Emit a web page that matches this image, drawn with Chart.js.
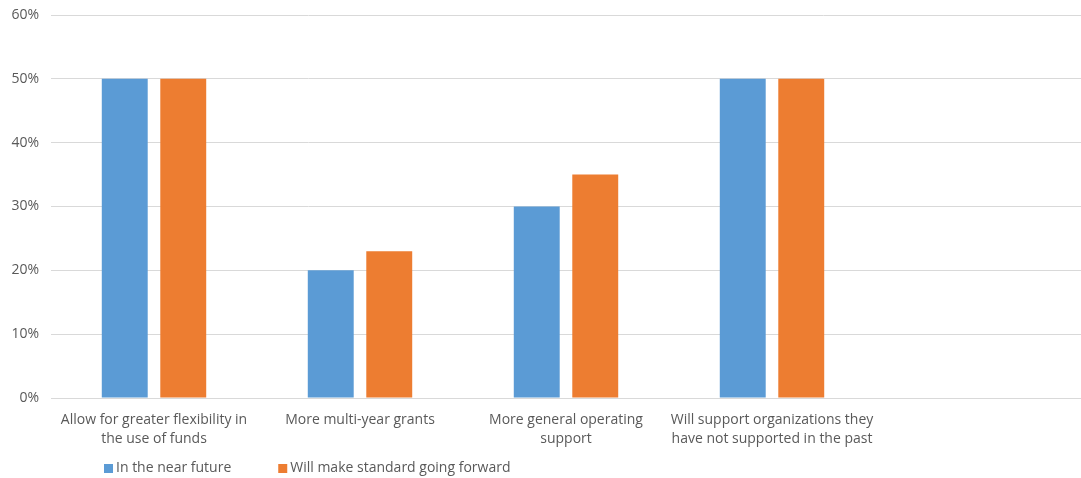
<!DOCTYPE html>
<html>
<head>
<meta charset="utf-8">
<script src="https://cdn.jsdelivr.net/npm/chart.js@4"></script>
<style>
  html, body { margin: 0; padding: 0; background: #fff; }
  #wrap { width: 1081px; height: 478px; }
</style>
</head>
<body>
<div id="wrap"><canvas id="grantChart"></canvas></div>
<script>
const categories = [
  ['Allow for greater flexibility in', 'the use of funds'],
  'More multi-year grants',
  ['More general operating', 'support'],
  ['Will support organizations they', 'have not supported in the past'],
  ''
];
const nearFuture = [50, 20, 30, 50, null];
const goingForward = [50, 23, 35, 50, null];
const seriesNames = ['In the near future', 'Will make standard going forward'];
const seriesColors = ['#5B9BD5', '#ED7D31'];

const fontFamily = "'Open Sans', 'Noto Sans', sans-serif";

// Excel style legend, bottom left
const bottomLegend = {
  id: 'bottomLegend',
  afterDraw(chart) {
    const c = chart.ctx;
    c.save();
    c.font = '14px ' + fontFamily;
    c.textBaseline = 'middle';
    let x = 104;
    const y = 468;
    chart.data.datasets.forEach(ds => {
      c.fillStyle = ds.backgroundColor;
      c.fillRect(x, y - 4, 9, 9);
      c.fillStyle = '#595959';
      c.fillText(ds.label, x + 12, y);
      x += 12 + c.measureText(ds.label).width + 47;
    });
    c.restore();
  }
};

const ctx = document.getElementById('grantChart').getContext('2d');
const grantChart = new Chart(ctx, {
  type: 'bar',
  data: {
    labels: categories,
    datasets: [{
      label: seriesNames[0],
      data: nearFuture,
      backgroundColor: seriesColors[0]
    }, {
      label: seriesNames[1],
      data: goingForward,
      backgroundColor: seriesColors[1]
    }]
  },
  options: {
    responsive: true,
    maintainAspectRatio: false,
    animation: false,
    categoryPercentage: 0.568,
    barPercentage: 0.785,
    layout: { padding: { top: 15, right: -8, left: 1, bottom: 0 } },
    plugins: {
      legend: { display: false },
      tooltip: {
        callbacks: {
          label: function(item) {
            return item.dataset.label + ': ' + item.raw + '%';
          }
        }
      }
    },
    scales: {
      x: {
        grid: { display: false, drawTicks: false },
        border: { color: '#d9d9d9', width: 1 },
        ticks: {
          color: '#595959',
          font: { family: fontFamily, size: 14, lineHeight: 1.4 },
          padding: 12,
          maxRotation: 0,
          autoSkip: false
        },
        afterFit: function(scale) { scale.height = 80; }
      },
      y: {
        min: 0,
        max: 60,
        grid: { color: '#d9d9d9', drawTicks: false },
        border: { display: false },
        ticks: {
          stepSize: 10,
          color: '#595959',
          font: { family: fontFamily, size: 14 },
          padding: 12,
          callback: v => v + '%'
        },
        afterFit: function(scale) {
          scale.width = 50;
          scale.paddingTop = 0;
          scale.paddingBottom = 0;
        }
      }
    }
  },
  plugins: [bottomLegend]
});
</script>
</body>
</html>
